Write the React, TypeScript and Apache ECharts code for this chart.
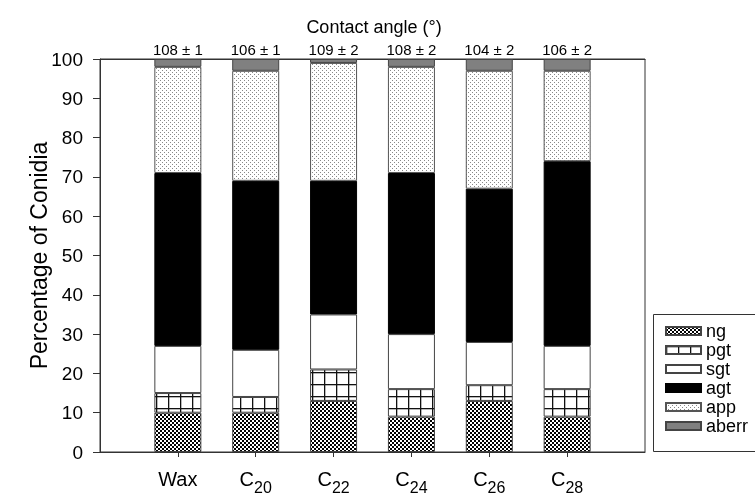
import React, { useEffect, useRef } from 'react';
import * as echarts from 'echarts';

const categories = ['Wax', 'C20', 'C22', 'C24', 'C26', 'C28'];
const contactAngles = ['108 ± 1', '106 ± 1', '109 ± 2', '108 ± 2', '104 ± 2', '106 ± 2'];
const seriesNames = ['ng', 'pgt', 'sgt', 'agt', 'app', 'aberr'];
const ng = [10, 10, 13, 9, 13, 9];
const pgt = [5, 4, 8, 7, 4, 7];
const sgt = [12, 12, 14, 14, 11, 11];
const agt = [44, 43, 34, 41, 39, 47];
const app = [27, 28, 30, 27, 30, 23];
const aberr = [2, 3, 1, 2, 3, 3];

const FONT = 'Liberation Sans, Arial, Helvetica, sans-serif';

function makeTile(w: number, h: number, draw: (ctx: CanvasRenderingContext2D) => void) {
  const c = document.createElement('canvas');
  c.width = w;
  c.height = h;
  const ctx = c.getContext('2d') as CanvasRenderingContext2D;
  draw(ctx);
  return { image: c, repeat: 'repeat', imageWidth: w, imageHeight: h } as any;
}

export default function App() {
  const ref = useRef<HTMLDivElement>(null);
  useEffect(() => {
    if (!ref.current) return;
    const chart = echarts.init(ref.current, null, { renderer: 'svg' });

    const ngPattern = makeTile(4, 4, (ctx) => {
      ctx.fillStyle = '#000';
      ctx.fillRect(0, 0, 4, 4);
      ctx.fillStyle = '#fff';
      ctx.fillRect(0, 0, 2, 2);
      ctx.fillRect(2, 2, 2, 2);
    });
    const pgtPattern = makeTile(12, 12, (ctx) => {
      ctx.fillStyle = '#fff';
      ctx.fillRect(0, 0, 12, 12);
      ctx.fillStyle = '#111';
      ctx.fillRect(0, 0, 12, 1.3);
      ctx.fillRect(0, 0, 1.3, 12);
    });
    const appPattern = makeTile(4, 4, (ctx) => {
      ctx.fillStyle = '#fff';
      ctx.fillRect(0, 0, 4, 4);
      ctx.fillStyle = '#888';
      ctx.fillRect(0, 0, 1, 1);
      ctx.fillRect(2, 2, 1, 1);
    });

    // axis slots: an empty slot on each side of the six bars
    const xCats = ['', ...categories, ''];
    const values = [ng, pgt, sgt, agt, app, aberr];
    const fills: any[] = [ngPattern, pgtPattern, '#ffffff', '#000000', appPattern, '#808080'];
    const borders = ['#444', '#444', '#444', '#000', '#555', '#444'];

    const series = seriesNames.map((name, k) => ({
      name,
      type: 'bar',
      stack: 'total',
      barWidth: 47,
      xAxisIndex: 0,
      yAxisIndex: 0,
      itemStyle: { color: fills[k], borderColor: borders[k], borderWidth: 1 },
      emphasis: { disabled: true },
      data: ['-', ...values[k], '-'],
    }));

    const labelFor = (c: string) => {
      if (!c) return '';
      if (c.startsWith('C')) return '{a|C}{b|' + c.slice(1) + '}';
      return '{a|' + c + '}';
    };

    const inner = (index: number) => index >= 1 && index <= categories.length;

    chart.setOption({
      animation: false,
      grid: {
        left: 100,
        right: 110,
        top: 59,
        bottom: 43,
        show: true,
        borderColor: '#333',
        borderWidth: 1,
        backgroundColor: 'transparent',
      },
      graphic: [
        {
          type: 'text',
          x: 374,
          y: 27,
          style: {
            text: 'Contact angle (°)',
            fill: '#000',
            font: '18px ' + FONT,
            fontSize: 18,
            fontFamily: FONT,
            align: 'center',
            verticalAlign: 'middle',
            textAlign: 'center',
            textVerticalAlign: 'middle',
          },
        },
        {
          type: 'rect',
          shape: { x: 653.5, y: 314.5, width: 130, height: 137 },
          style: { fill: 'none', stroke: '#333', lineWidth: 1 },
          silent: true,
        },
      ],
      legend: {
        orient: 'vertical',
        left: 665,
        top: 322,
        data: seriesNames,
        icon: 'rect',
        itemWidth: 35,
        itemHeight: 8,
        itemGap: 1,
        padding: 0,
        borderWidth: 0,
        selectedMode: false,
        textStyle: { fontSize: 18, color: '#000', fontFamily: FONT },
      },
      xAxis: [
        {
          type: 'category',
          data: xCats,
          boundaryGap: false,
          position: 'bottom',
          splitLine: { show: false },
          axisLine: { show: true, onZero: false, lineStyle: { color: '#333', width: 1 } },
          axisTick: {
            show: true,
            length: 5,
            inside: false,
            interval: (index: number) => inner(index),
            lineStyle: { color: '#333' },
          },
          axisLabel: {
            show: true,
            interval: 0,
            margin: 17,
            formatter: (v: string) => labelFor(v),
            rich: {
              a: { fontSize: 20, lineHeight: 22, color: '#000', fontFamily: FONT, verticalAlign: 'top' },
              b: {
                fontSize: 16,
                lineHeight: 16,
                color: '#000',
                fontFamily: FONT,
                padding: [10, 0, 0, 0],
                verticalAlign: 'top',
              },
            },
          },
        },
        {
          type: 'category',
          data: xCats,
          boundaryGap: false,
          position: 'top',
          splitLine: { show: false },
          axisLine: { show: true, onZero: false, lineStyle: { color: '#333', width: 1 } },
          axisTick: { show: false },
          axisLabel: {
            show: true,
            interval: 0,
            margin: 2,
            fontSize: 15,
            color: '#000',
            fontFamily: FONT,
            formatter: (_v: string, index: number) => (inner(index) ? contactAngles[index - 1] : ''),
          },
        },
      ],
      yAxis: {
        type: 'value',
        min: 0,
        max: 100,
        interval: 10,
        name: 'Percentage of Conidia',
        nameLocation: 'middle',
        nameGap: 50,
        nameRotate: 90,
        nameMoveOverlap: false,
        nameTextStyle: { fontSize: 23, color: '#000', fontFamily: FONT },
        splitLine: { show: false },
        axisLine: { show: true, lineStyle: { color: '#333', width: 1 } },
        axisTick: { show: true, length: 7, inside: false, lineStyle: { color: '#333' } },
        axisLabel: { fontSize: 19, color: '#000', fontFamily: FONT, margin: 17 },
      },
      series,
    });

    return () => chart.dispose();
  }, []);

  return <div ref={ref} style={{ position: 'fixed', left: 0, top: 0, width: 755, height: 495 }} />;
}
